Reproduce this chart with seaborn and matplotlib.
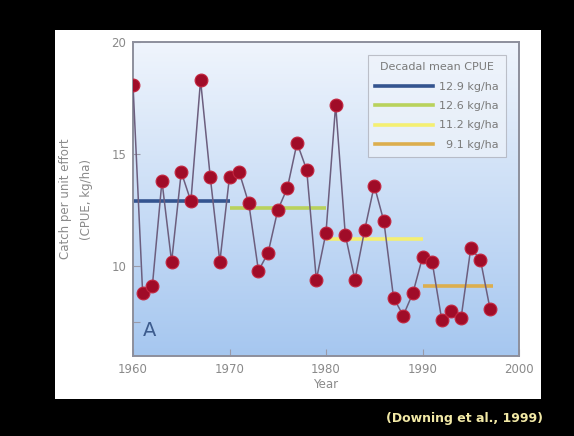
import numpy as np
import pandas as pd
import matplotlib
matplotlib.use("Agg")
import matplotlib.pyplot as plt
from matplotlib.patches import Rectangle
from matplotlib.lines import Line2D
import seaborn as sns

# Annual catch per unit effort (kg/ha)
years = list(range(1960, 1998))
cpue = [18.1, 8.8, 9.1, 13.8, 10.2, 14.2, 12.9, 18.3, 14.0, 10.2,
        14.0, 14.2, 12.8, 9.8, 10.6, 12.5, 13.5, 15.5, 14.3, 9.4,
        11.5, 17.2, 11.4, 9.4, 11.6, 13.6, 12.0, 8.6, 7.8, 8.8,
        10.4, 10.2, 7.6, 8.0, 7.7, 10.8, 10.3, 8.1]

# Decadal means
decade_start = [1960, 1970, 1980, 1990]
decade_end = [1970, 1980, 1990, 1997.3]
decade_mean = [12.9, 12.6, 11.2, 9.1]
decade_labels = ["12.9 kg/ha", "12.6 kg/ha", "11.2 kg/ha", "  9.1 kg/ha"]
decade_colors = ["#34548f", "#b9d25c", "#f4ef72", "#dcae4e"]

df = pd.DataFrame({"Year": years, "CPUE": cpue})

W, H = 574, 436
fig = plt.figure(figsize=(W / 100, H / 100), dpi=100, facecolor="black")

# white panel behind the chart
fig.patches.append(Rectangle((55 / W, 1 - 399 / H), (541 - 55) / W, (399 - 30) / H,
                             transform=fig.transFigure, facecolor="white",
                             edgecolor="none", zorder=-10))

ax = fig.add_axes([133 / W, 1 - 356 / H, (519 - 133) / W, (356 - 42) / H])
ax.set_zorder(1)

# vertical blue gradient background
grad = np.linspace(0, 1, 256).reshape(-1, 1)
top = np.array([0.94, 0.96, 0.99])
bot = np.array([0.65, 0.78, 0.94])
img = top[None, None, :] * (1 - grad[..., None]) + bot[None, None, :] * grad[..., None]
ax.imshow(img, extent=[0, 1, 0, 1], transform=ax.transAxes, aspect="auto",
          zorder=0, interpolation="bicubic")

for x0, x1, m, c in zip(decade_start, decade_end, decade_mean, decade_colors):
    ax.plot([x0, x1], [m, m], color=c, lw=2.6, solid_capstyle="butt", zorder=2)

sns.lineplot(data=df, x="Year", y="CPUE", ax=ax, color="#6c5e7e", lw=1.1,
             zorder=3, legend=False)
sns.scatterplot(data=df, x="Year", y="CPUE", ax=ax, s=85, color="#a00c28",
                edgecolor="#c4263f", linewidth=0.8, zorder=4, legend=False)

ax.set_xlim(1960, 2000)
ax.set_ylim(6, 20)
ax.set_xlabel("")
ax.set_ylabel("")
ax.set_xticks([1960, 1970, 1980, 1990, 2000])
ax.set_yticks([10, 15, 20])
ax.set_yticks([7.5], minor=True)
ax.tick_params(axis="both", which="both", direction="in", color="#9a9aa8",
               labelcolor="#8a8a8a", labelsize=8.5, length=5, width=0.8)
ax.tick_params(axis="y", pad=5)
ax.tick_params(axis="x", pad=5)
for s in ax.spines.values():
    s.set_color("#8d8f9c")
    s.set_linewidth(1.4)

ax.text(0.025, 0.05, "A", transform=ax.transAxes, fontsize=14,
        color="#3d5c8e", ha="left", va="bottom")

handles = [Line2D([], [], color=c, lw=2.6) for c in decade_colors]
leg = ax.legend(handles, decade_labels, title="Decadal mean CPUE",
                loc="upper right", bbox_to_anchor=(0.98, 0.975), fontsize=8,
                title_fontsize=8, handlelength=5.2, labelspacing=0.85,
                frameon=True, fancybox=False, borderpad=0.6, handletextpad=0.6)
leg.get_frame().set_edgecolor("#a8aab4")
leg.get_frame().set_facecolor("#eef3fa")
leg.get_frame().set_alpha(0.7)
leg.get_frame().set_linewidth(0.8)
leg.get_title().set_color("#7a7a7a")
for t in leg.get_texts():
    t.set_color("#7a7a7a")

fig.text(76 / W, 1 - 199 / H, "Catch per unit effort\n(CPUE, kg/ha)", rotation=90,
         ha="center", va="center", fontsize=8.5, color="#8a8a8a", linespacing=1.8)
fig.text(326 / W, 1 - 384 / H, "Year", ha="center", va="center",
         fontsize=8.5, color="#8a8a8a")

fig.text(543 / W, 1 - 418 / H, "(Downing et al., 1999)", ha="right", va="center",
         fontsize=9, fontweight="bold", color="#f2e9a6")

fig.savefig("out.png", dpi=100, facecolor="black")
